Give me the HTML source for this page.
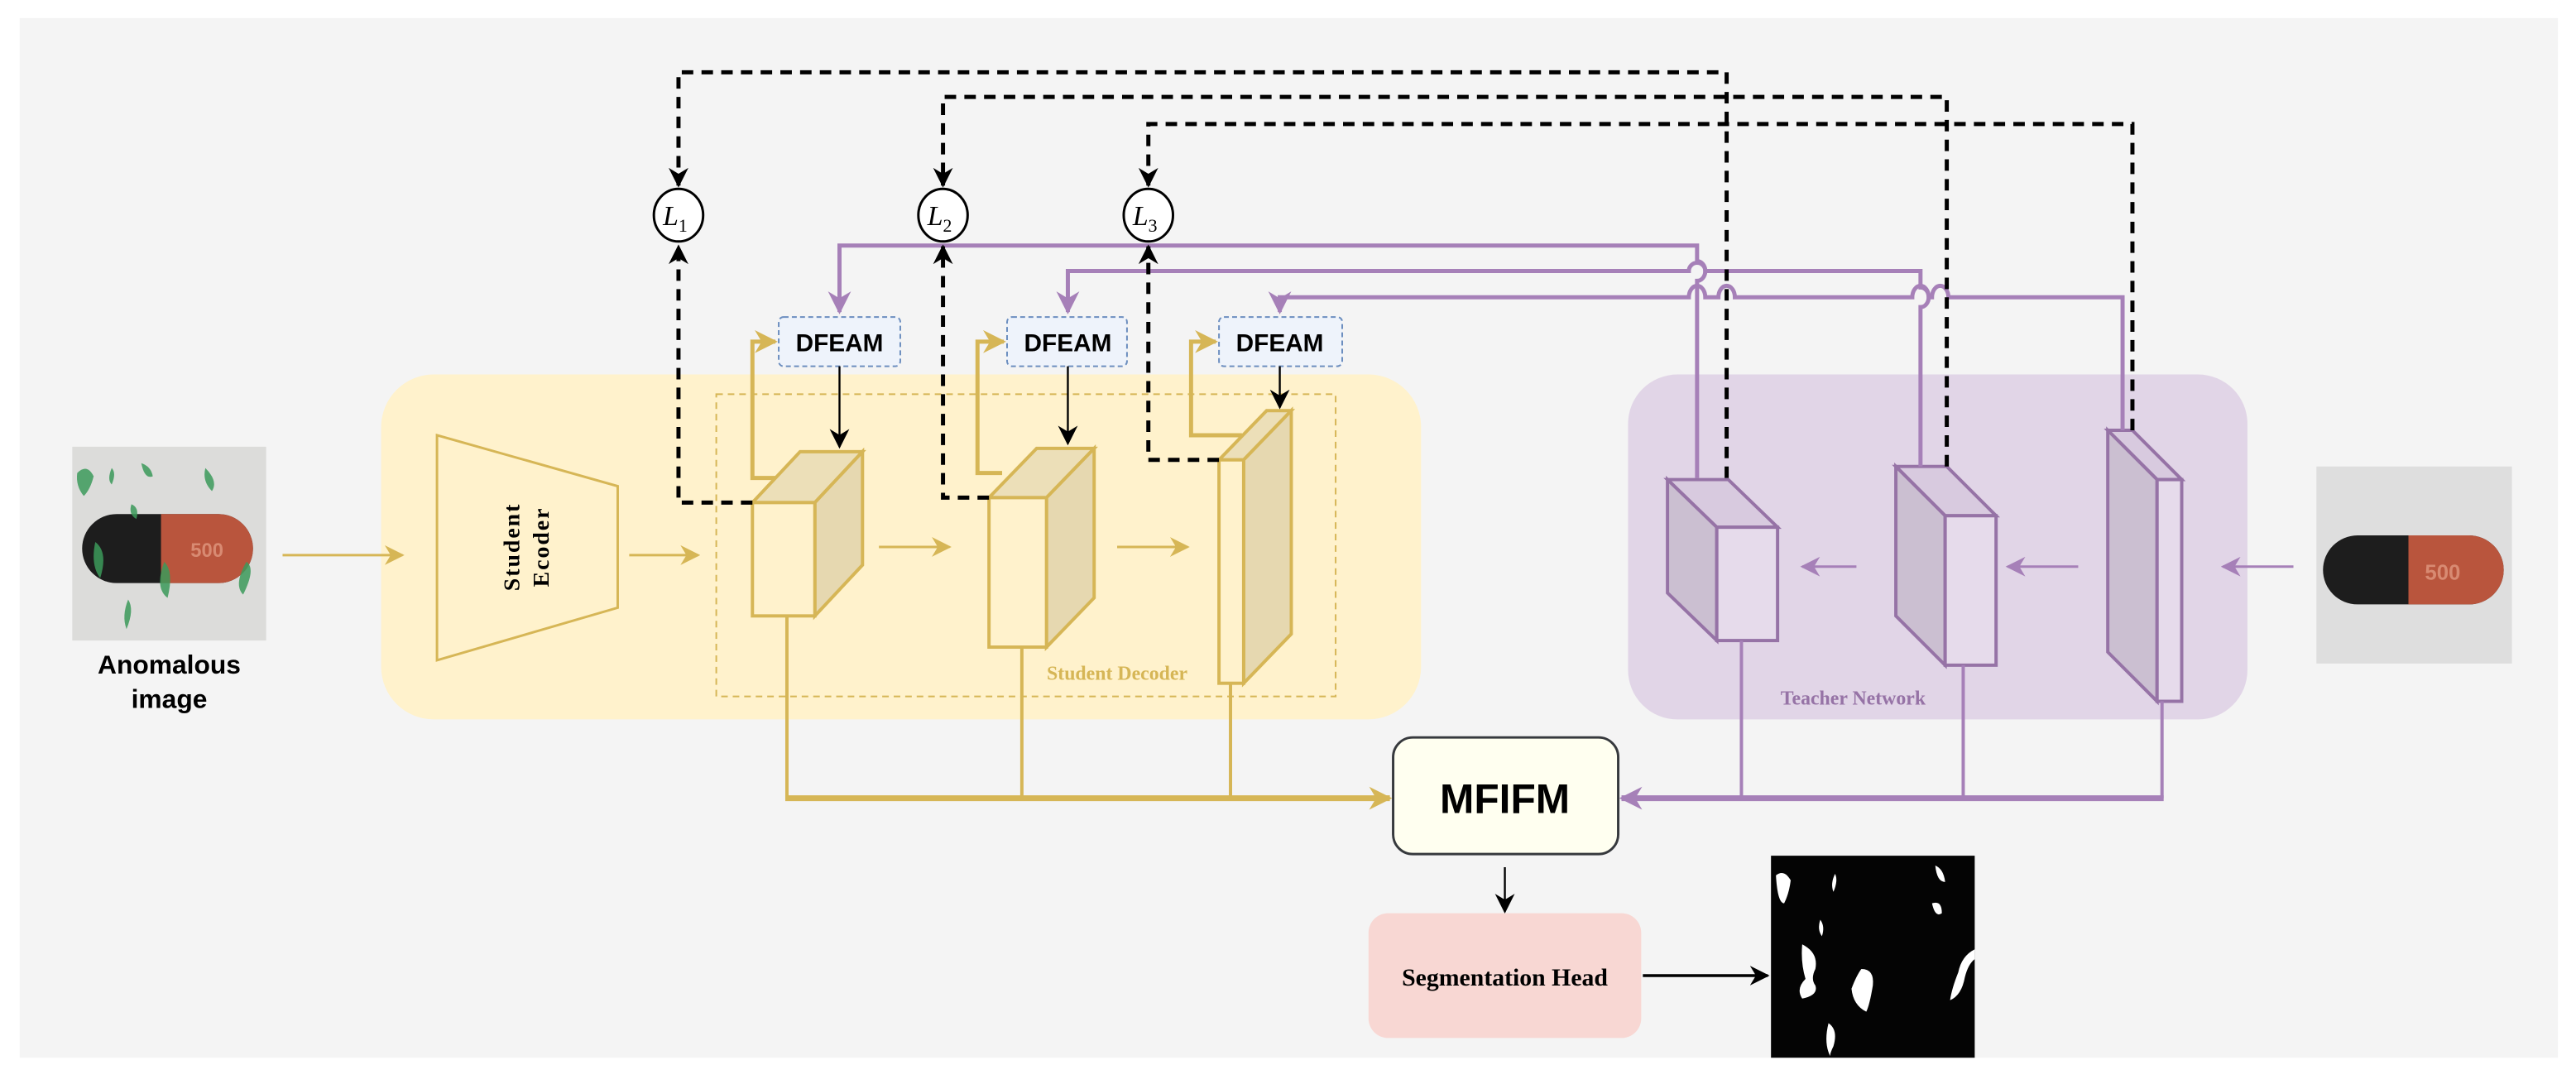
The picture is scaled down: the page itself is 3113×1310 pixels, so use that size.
<!DOCTYPE html>
<html><head><style>html,body{margin:0;padding:0;background:#fff}svg{display:block}</style></head>
<body>
<svg width="3113" height="1310" viewBox="0 0 1568 660" preserveAspectRatio="none" xmlns="http://www.w3.org/2000/svg">
<defs>
<marker id="ag" viewBox="0 0 10 10" refX="9" refY="5" markerWidth="12" markerHeight="12" orient="auto" markerUnits="userSpaceOnUse"><path d="M0,0 L10,5 L0,10 L3,5z" fill="#d6b656"/></marker>
<marker id="agb" viewBox="0 0 10 10" refX="9" refY="5" markerWidth="14" markerHeight="14" orient="auto" markerUnits="userSpaceOnUse"><path d="M0,0 L10,5 L0,10 L3,5z" fill="#d6b656"/></marker>
<marker id="ap" viewBox="0 0 10 10" refX="9" refY="5" markerWidth="12" markerHeight="12" orient="auto" markerUnits="userSpaceOnUse"><path d="M0,0 L10,5 L0,10 L3,5z" fill="#a680b8"/></marker>
<marker id="apb" viewBox="0 0 10 10" refX="9" refY="5" markerWidth="14" markerHeight="14" orient="auto" markerUnits="userSpaceOnUse"><path d="M0,0 L10,5 L0,10 L3,5z" fill="#a680b8"/></marker>
<marker id="ak" viewBox="0 0 10 10" refX="9" refY="5" markerWidth="12" markerHeight="12" orient="auto" markerUnits="userSpaceOnUse"><path d="M0,0 L10,5 L0,10 L3,5z" fill="#000"/></marker>
</defs>
<rect x="12" y="11" width="1545" height="633" fill="#f4f4f4"/>

<rect x="232" y="228" width="633" height="210" rx="32" fill="#fff2cc"/>
<rect x="436" y="240" width="377" height="184" fill="none" stroke="#d6b656" stroke-dasharray="4,3"/>
<polygon points="266,265 376,296 376,370 266,402" fill="none" stroke="#d6b656" stroke-width="1.5"/>
<text transform="translate(321,333) rotate(-90)" text-anchor="middle" font-family="Liberation Serif,serif" font-weight="bold" font-size="14" letter-spacing="1"><tspan x="0" y="-5">Student</tspan><tspan x="0" y="13">Ecoder</tspan></text>
<text x="680" y="414" text-anchor="middle" font-family="Liberation Serif,serif" font-weight="bold" font-size="12" fill="#d6b656">Student Decoder</text>

<rect x="991" y="228" width="377" height="210" rx="30" fill="#e1d5e7"/>
<text x="1128" y="429" text-anchor="middle" font-family="Liberation Serif,serif" font-weight="bold" font-size="12" fill="#9673a6">Teacher Network</text>

<rect x="44" y="272" width="118" height="118" fill="#dcdcda"/>
<rect x="50" y="313" width="104" height="42" rx="21" fill="#1d1d1d"/>
<path d="M98,313 H133 A21,21 0 0 1 133,355 H98z" fill="#b9553d"/>
<text x="116" y="339" font-family="Liberation Sans,sans-serif" font-size="12" font-weight="bold" fill="#d88a72">500</text>
<g fill="#3c9a5a" opacity="0.85">
<path d="M47,288 q6,-6 10,2 q-2,8 -6,12 q-5,-6 -4,-14z"/><path d="M68,285 q3,3 0,10 q-3,-3 0,-10z"/><path d="M86,282 q6,2 7,8 q-5,2 -7,-8z"/>
<path d="M80,307 q5,2 3,9 q-5,-3 -3,-9z"/><path d="M58,330 q8,6 3,22 q-6,-8 -3,-22z"/><path d="M100,342 q6,6 2,22 q-8,-6 -2,-22z"/>
<path d="M150,342 q6,4 -2,20 q-6,-6 2,-20z"/><path d="M78,365 q4,6 -1,18 q-3,-8 1,-18z"/><path d="M125,285 q8,8 4,14 q-6,-6 -4,-14z"/>
</g>
<text x="103" y="410" text-anchor="middle" font-family="Liberation Sans,sans-serif" font-weight="bold" font-size="16">Anomalous</text>
<text x="103" y="431" text-anchor="middle" font-family="Liberation Sans,sans-serif" font-weight="bold" font-size="16">image</text>

<rect x="1410" y="284" width="119" height="120" fill="#dedede"/>
<rect x="1414" y="326" width="110" height="42" rx="21" fill="#1d1d1d"/>
<path d="M1466,326 H1503 A21,21 0 0 1 1503,368 H1466z" fill="#b9553d"/>
<text x="1476" y="353" font-family="Liberation Sans,sans-serif" font-size="13" font-weight="bold" fill="#d88a72">500</text>

<g stroke="#d6b656" stroke-width="1.5" fill="none">
<line x1="172" y1="338" x2="245" y2="338" marker-end="url(#ag)"/>
<line x1="383" y1="338" x2="425" y2="338" marker-end="url(#ag)"/>
<line x1="535" y1="333" x2="578" y2="333" marker-end="url(#ag)"/>
<line x1="680" y1="333" x2="723" y2="333" marker-end="url(#ag)"/>
</g>
<g stroke="#d6b656" stroke-width="2.5" fill="none">
<polyline points="473,291 458,291 458,208 472,208" marker-end="url(#agb)"/>
<polyline points="610,288 595,288 595,208 611,208" marker-end="url(#agb)"/>
<polyline points="756,265 725,265 725,208 740,208" marker-end="url(#agb)"/>
</g>

<g stroke="#d6b656" stroke-width="2">
<polygon points="458,306 487,275 525,275 496,306" fill="#ecdfb8"/>
<polygon points="496,306 525,275 525,344 496,375" fill="#e6d8b0"/>
<rect x="458" y="306" width="38" height="69" fill="#fff2cc"/>
<polygon points="602,303 631,273 666,273 637,303" fill="#ecdfb8"/>
<polygon points="637,303 666,273 666,364 637,394" fill="#e6d8b0"/>
<rect x="602" y="303" width="35" height="91" fill="#fff2cc"/>
<polygon points="742,280 771,250 786,250 757,280" fill="#ecdfb8"/>
<polygon points="757,280 786,250 786,386 757,416" fill="#e6d8b0"/>
<rect x="742" y="280" width="15" height="136" fill="#fff2cc"/>
</g>

<g stroke="#9673a6" stroke-width="2">
<polygon points="1015,292 1045,321 1082,321 1052,292" fill="#d8cadf"/>
<polygon points="1015,292 1045,321 1045,390 1015,361" fill="#cbbfd1"/>
<rect x="1045" y="321" width="37" height="69" fill="#e6dbeb"/>
<polygon points="1154,284 1184,314 1215,314 1185,284" fill="#d8cadf"/>
<polygon points="1154,284 1184,314 1184,405 1154,375" fill="#cbbfd1"/>
<rect x="1184" y="314" width="31" height="91" fill="#e6dbeb"/>
<polygon points="1283,262 1313,292 1328,292 1298,262" fill="#d8cadf"/>
<polygon points="1283,262 1313,292 1313,427 1283,397" fill="#cbbfd1"/>
<rect x="1313" y="292" width="15" height="135" fill="#e6dbeb"/>
</g>
<g stroke="#a680b8" stroke-width="1.5">
<line x1="1396" y1="345" x2="1353" y2="345" marker-end="url(#ap)"/>
<line x1="1265" y1="345" x2="1222" y2="345" marker-end="url(#ap)"/>
<line x1="1130" y1="345" x2="1097" y2="345" marker-end="url(#ap)"/>
</g>

<g font-family="Liberation Sans,sans-serif" font-weight="bold" font-size="15" text-anchor="middle">
<rect x="474" y="193" width="74" height="30" rx="3" fill="#eef3fb" stroke="#6c8ebf" stroke-dasharray="3,2"/>
<text x="511" y="214">DFEAM</text>
<rect x="613" y="193" width="73" height="30" rx="3" fill="#eef3fb" stroke="#6c8ebf" stroke-dasharray="3,2"/>
<text x="650" y="214">DFEAM</text>
<rect x="742" y="193" width="75" height="30" rx="3" fill="#eef3fb" stroke="#6c8ebf" stroke-dasharray="3,2"/>
<text x="779" y="214">DFEAM</text>
</g>
<g stroke="#000" stroke-width="1.2">
<line x1="511" y1="223" x2="511" y2="272" marker-end="url(#ak)"/>
<line x1="650" y1="223" x2="650" y2="270" marker-end="url(#ak)"/>
<line x1="779" y1="223" x2="779" y2="248" marker-end="url(#ak)"/>
</g>

<g stroke="#a680b8" stroke-width="2.5" fill="none">
<path d="M1033,291 V171 A5,6 0 0 0 1033,159 V149.5 H511 V190" marker-end="url(#apb)"/>
<path d="M1169,284 V187 A5,6 0 0 0 1169,175 V165 H1038 A5,5 0 0 0 1028,165 H650 V190" marker-end="url(#apb)"/>
<path d="M1292,262 V181 H1186 A5,7 0 0 0 1176,181 H1174 A5,7 0 0 0 1164,181 H1056 A5,7 0 0 0 1046,181 H1038 A5,7 0 0 0 1028,181 H779 V190" marker-end="url(#apb)"/>
</g>

<g stroke="#000" stroke-width="2.5" fill="none" stroke-dasharray="7,5">
<path d="M1051,291 V44 H413 V113" marker-end="url(#ak)"/>
<path d="M1185,284 V59 H574 V113" marker-end="url(#ak)"/>
<path d="M1298,262 V75.5 H699 V113" marker-end="url(#ak)"/>
<path d="M458,306 H413 V150" marker-end="url(#ak)"/>
<path d="M602,303 H574 V150" marker-end="url(#ak)"/>
<path d="M742,280 H699 V150" marker-end="url(#ak)"/>
</g>
<g fill="#fff" stroke="#000" stroke-width="1.5">
<ellipse cx="413" cy="131" rx="15" ry="16"/><ellipse cx="574" cy="131" rx="15" ry="16"/><ellipse cx="699" cy="131" rx="15" ry="16"/>
</g>
<g font-family="Liberation Serif,serif" font-style="italic" font-size="17" text-anchor="middle">
<text x="411" y="137">L<tspan font-size="11" font-style="normal" dy="4">1</tspan></text>
<text x="572" y="137">L<tspan font-size="11" font-style="normal" dy="4">2</tspan></text>
<text x="697" y="137">L<tspan font-size="11" font-style="normal" dy="4">3</tspan></text>
</g>

<g stroke="#d6b656" fill="none">
<polyline points="479,375 479,486" stroke-width="2"/>
<polyline points="622,394 622,486" stroke-width="2"/>
<polyline points="749,416 749,486" stroke-width="2"/>
<line x1="478" y1="486" x2="846" y2="486" stroke-width="3.5" marker-end="url(#agb)"/>
</g>
<g stroke="#a680b8" fill="none">
<polyline points="1060,390 1060,486" stroke-width="2"/>
<polyline points="1195,405 1195,486" stroke-width="2"/>
<polyline points="1316,427 1316,486" stroke-width="2"/>
<line x1="1317" y1="486" x2="987" y2="486" stroke-width="3.5" marker-end="url(#apb)"/>
</g>
<rect x="848" y="449" width="137" height="71" rx="12" fill="#fffff0" stroke="#36393d" stroke-width="1.5"/>
<text x="916" y="495" text-anchor="middle" font-family="Liberation Sans,sans-serif" font-weight="bold" font-size="25">MFIFM</text>
<line x1="916" y1="528" x2="916" y2="555" stroke="#000" stroke-width="1.2" marker-end="url(#ak)"/>
<rect x="833" y="556" width="166" height="76" rx="12" fill="#f8d7d3"/>
<text x="916" y="600" text-anchor="middle" font-family="Liberation Serif,serif" font-weight="bold" font-size="15">Segmentation Head</text>
<line x1="1000" y1="594" x2="1076" y2="594" stroke="#000" stroke-width="1.8" marker-end="url(#ak)"/>

<rect x="1078" y="521" width="124" height="123" fill="#040404"/>
<g fill="#fff">
<path d="M1081,533 q5,-4 9,3 q-1,8 -4,14 q-4,0 -5,-17z"/>
<path d="M1117,532 q2,4 -1,11 q-2,-5 1,-11z"/>
<path d="M1178,527 q5,2 6,10 q-5,0 -6,-10z"/>
<path d="M1176,550 q6,-2 6,6 q-4,3 -6,-6z"/>
<path d="M1108,560 q3,4 1,10 q-3,-4 -1,-10z"/>
<path d="M1097,575 q10,5 8,15 q-3,6 0,10 q2,6 -8,8 q-4,-6 2,-12 q-3,-10 -2,-21z"/>
<path d="M1133,590 q8,0 7,10 q-2,12 -4,16 q-8,-4 -9,-14 q3,-8 6,-12z"/>
<path d="M1202,578 q-8,4 -10,14 q-4,10 -5,17 q7,-3 9,-14 q2,-8 6,-11z"/>
<path d="M1113,623 q6,4 3,14 q-2,4 -2,6 q-4,-8 -1,-20z"/>
</g>
</svg>
</body></html>
